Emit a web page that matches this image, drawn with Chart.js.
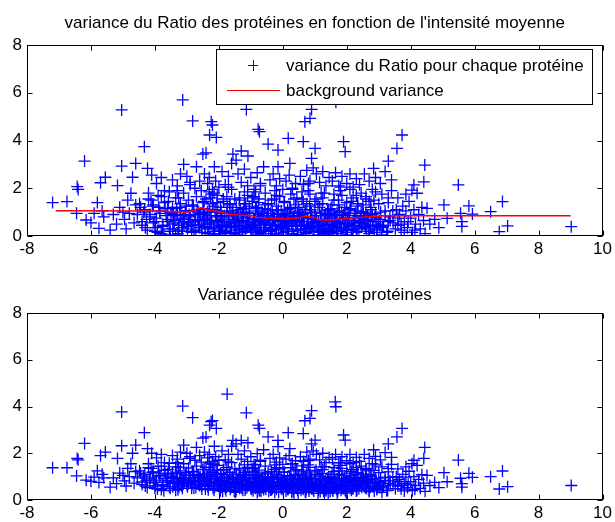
<!DOCTYPE html>
<html>
<head>
<meta charset="utf-8">
<script src="https://cdn.jsdelivr.net/npm/chart.js@4.4.1/dist/chart.umd.min.js"></script>
<style>
  html, body { margin: 0; padding: 0; background: #fff; }
  #wrap { position: relative; width: 615px; height: 522px; }
  canvas { position: absolute; left: 0; }
  #topChart { top: 0; }
  #bottomChart { top: 261px; }
</style>
</head>
<body>
<div id="wrap">
  <canvas id="topChart" width="615" height="261"></canvas>
  <canvas id="bottomChart" width="615" height="261"></canvas>
</div>
<script>
// mean intensity of each protein (x)
var protX = [
  -7.2, -6.75, -6.45, -6.43, -6.4, -6.2, -6.15, -5.9, -5.8, -5.7, -5.55, -5.75, -5.65, -6.0, -5.6,
  -5.17, -5.04, -5.04, -4.70, -4.75, -5.3, -5.2, -5.1, -4.95, -4.9, -4.85, -4.8, -4.65, -4.6, -5.4, -4.55, -5.0,
  -4.6, -4.33, -4.23, -4.1, -3.95, -3.8, -3.7, -4.45, -4.4, -4.3, -4.2, -4.15, -4.05, -4.0, -3.95, -3.9, -3.85, -3.75, -3.7, -3.65, -3.6, -3.55, -3.55, -4.35, -4.05, -3.8, -3.62,
  -3.13, -3.1, -2.82, -2.5, -2.4, -3.45, -3.3, -3.2, -3.0, -2.9, -2.7, -2.6, -3.45, -3.4, -3.35, -3.3, -3.25, -3.2, -3.15, -3.1, -3.05, -3.0, -2.95, -2.9, -2.85, -2.8, -2.75, -2.7, -2.65, -2.6, -2.55, -2.5, -2.5, -3.35, -2.95, -2.75,
  -2.24, -2.2, -2.29, -2.08, -2.14, -1.74, -1.56, -1.46, -1.6, -2.45, -2.35, -2.3, -2.2, -2.1, -2.0, -1.9, -1.8, -1.7, -1.6, -2.45, -2.4, -2.35, -2.3, -2.25, -2.2, -2.15, -2.1, -2.05, -2.0, -1.95, -1.9, -1.85, -1.8, -1.75, -1.7, -1.65, -1.6, -1.55, -2.45, -2.15, -1.95, -1.75, -1.5, -1.5, -2.05, -2.3,
  -1.14, -0.77, -0.73, -0.46, -1.3, -1.09, -1.4, -1.3, -1.2, -1.1, -1.0, -0.9, -0.8, -0.7, -0.6, -0.55, -1.45, -1.4, -1.35, -1.3, -1.25, -1.2, -1.15, -1.1, -1.05, -1.0, -0.95, -0.9, -0.85, -0.8, -0.75, -0.7, -0.65, -0.6, -0.55, -0.5, -1.45, -1.25, -0.95, -0.85, -0.65, -1.35, -1.05, -0.75,
  -0.15, 0.17, 0.22, -0.15, -0.4, -0.3, -0.2, -0.1, 0.0, 0.1, 0.2, 0.3, 0.4, -0.45, -0.4, -0.35, -0.3, -0.25, -0.2, -0.15, -0.1, -0.05, 0.0, 0.05, 0.1, 0.15, 0.2, 0.25, 0.3, 0.35, 0.4, 0.45, -0.45, -0.25, 0.05, 0.25, 0.45, -0.05, 0.35, -0.35, 0.15,
  0.64, 0.69, 0.85, 0.9, 1.01, 0.9, 0.55, 0.65, 0.75, 0.85, 0.95, 1.05, 1.15, 1.25, 1.35, 1.45, 0.5, 0.55, 0.6, 0.65, 0.7, 0.75, 0.8, 0.85, 0.9, 0.95, 1.0, 1.05, 1.1, 1.15, 1.2, 1.25, 1.3, 1.35, 1.4, 1.45, 0.6, 0.8, 1.0, 1.2, 1.4, 0.7, 1.1, 1.3, 0.9,
  1.64, 1.66, 1.9, 1.95, 1.55, 1.65, 1.75, 1.85, 2.0, 2.1, 2.2, 2.3, 2.4, 1.5, 1.55, 1.6, 1.65, 1.7, 1.75, 1.8, 1.85, 1.9, 1.95, 2.0, 2.05, 2.1, 2.15, 2.2, 2.25, 2.3, 2.35, 2.4, 2.45, 1.6, 1.8, 2.0, 2.2, 2.45, 1.7, 2.1,
  3.3, 2.84, 2.55, 2.7, 2.9, 3.05, 3.2, 3.4, 2.5, 2.55, 2.6, 2.65, 2.7, 2.75, 2.8, 2.85, 2.9, 2.95, 3.0, 3.05, 3.1, 3.15, 3.2, 3.25, 3.3, 3.35, 3.4, 3.45, 2.6, 2.9, 3.1, 3.3, 2.7,
  3.73, 3.57, 4.44, 4.41, 4.1, 4.04, 4.2, 3.6, 3.65, 3.7, 3.75, 3.8, 3.85, 3.9, 3.95, 4.0, 4.05, 4.1, 4.15, 4.25, 4.3, 4.35, 4.4, 4.45, 4.13, 3.55, 3.85, 3.6,
  4.51, 4.6, 4.75, 4.88, 5.04, 5.14, 5.49, 5.56, 5.6, 5.6, 5.82, 5.93, 6.5, 6.87, 6.77, 7.03, 9.02
];

// variance of the ratio for each protein (top panel)
var varRatio = [
  1.40, 1.44, 0.95, 2.07, 1.95, 3.14, 0.67, 0.95, 1.40, 2.23, 2.46, 0.32, 1.05, 0.55, 0.80,
  2.11, 5.28, 2.93, 2.46, 1.79, 0.90, 0.50, 1.20, 0.70, 0.30, 1.50, 0.95, 0.55, 1.30, 0.25, 0.90, 1.00,
  3.04, 3.74, 2.83, 2.55, 2.20, 2.45, 1.90, 1.20, 0.60, 0.35, 1.55, 0.90, 1.30, 0.20, 0.75, 1.70, 1.05, 0.45, 1.40, 0.85, 1.15, 0.30, 1.85, 1.00, 0.55, 0.10, 0.60,
  5.70, 3.00, 4.82, 3.43, 3.48, 2.35, 2.10, 2.60, 2.50, 2.25, 2.90, 2.30, 1.20, 0.50, 1.60, 0.90, 0.25, 1.35, 0.70, 1.80, 1.05, 0.40, 1.50, 0.85, 0.15, 1.25, 0.60, 1.65, 1.00, 0.35, 1.90, 0.80, 1.40, 0.05, 0.55, 2.00,
  4.79, 4.65, 4.23, 4.13, 2.90, 7.00, 3.43, 3.18, 3.04, 2.60, 2.20, 2.45, 1.95, 2.30, 2.05, 2.70, 2.15, 2.50, 1.95, 0.90, 1.55, 0.30, 1.10, 0.65, 1.35, 0.05, 0.85, 1.70, 0.45, 1.20, 0.70, 1.45, 0.20, 1.00, 0.55, 1.30, 0.35, 0.85, 0.50, 1.80, 0.10, 1.65, 1.55, 0.60, 1.00, 1.85,
  5.30, 4.47, 4.37, 3.85, 3.56, 3.35, 2.60, 2.25, 2.80, 2.10, 2.45, 1.95, 2.65, 2.20, 2.90, 1.80, 1.20, 0.40, 1.60, 0.80, 0.15, 1.35, 0.60, 1.70, 0.95, 0.30, 1.45, 0.70, 1.15, 0.05, 1.55, 0.50, 1.00, 0.25, 1.30, 0.75, 0.55, 1.00, 0.45, 1.85, 0.65, 0.25, 1.25, 0.90,
  3.60, 4.09, 3.04, 2.90, 2.35, 2.60, 2.10, 2.40, 1.95, 2.30, 2.55, 2.00, 2.20, 1.10, 0.45, 1.50, 0.80, 0.10, 1.25, 0.60, 1.65, 0.35, 0.90, 1.40, 0.20, 1.10, 0.50, 1.75, 0.75, 0.05, 1.30, 0.55, 0.70, 1.90, 0.70, 1.00, 0.95, 1.05, 1.55, 0.30, 0.40,
  3.95, 4.79, 4.93, 5.30, 3.67, 3.25, 2.50, 2.15, 2.75, 2.30, 2.85, 2.60, 2.25, 2.70, 2.10, 2.45, 1.20, 0.40, 1.55, 0.80, 0.15, 1.35, 0.60, 1.75, 1.00, 0.30, 1.45, 0.70, 0.05, 1.20, 0.50, 1.60, 0.85, 0.25, 1.05, 0.45, 0.95, 1.90, 0.55, 1.80, 0.65, 1.10, 1.30, 0.10, 0.35,
  5.90, 5.60, 3.95, 3.53, 2.30, 2.65, 2.10, 2.50, 2.20, 2.60, 2.05, 2.40, 2.15, 1.15, 0.35, 1.50, 0.75, 0.10, 1.30, 0.55, 1.70, 0.90, 0.25, 1.40, 0.65, 1.10, 0.40, 1.60, 0.85, 0.15, 1.25, 0.60, 1.00, 0.50, 1.90, 0.05, 0.30, 1.80, 1.00, 1.95,
  3.14, 2.83, 2.60, 2.30, 2.45, 2.20, 2.70, 2.35, 1.30, 0.50, 1.65, 0.85, 0.20, 1.20, 0.60, 1.50, 0.95, 0.30, 1.35, 0.70, 1.75, 0.45, 1.05, 0.15, 1.40, 0.80, 1.90, 0.55, 1.00, 1.85, 0.05, 0.60, 1.45,
  4.23, 3.67, 2.97, 2.27, 2.14, 1.92, 1.79, 1.60, 0.90, 0.25, 1.25, 0.60, 1.05, 0.35, 1.45, 0.75, 0.15, 1.10, 0.50, 0.90, 0.30, 1.20, 0.65, 0.10, 0.25, 1.10, 1.75, 0.45,
  1.16, 0.50, 0.70, 0.35, 1.30, 0.74, 2.14, 0.95, 0.40, 0.60, 1.26, 0.92, 1.02, 1.44, 0.18, 0.42, 0.39
];

// regulated variance of the same proteins (bottom panel)
var varRegul = [
  1.38, 1.38, 1.03, 1.78, 1.72, 2.42, 0.85, 0.98, 1.25, 1.90, 2.05, 0.75, 1.10, 0.80, 0.95,
  1.78, 3.77, 2.32, 2.00, 1.55, 0.95, 0.70, 1.15, 0.82, 0.60, 1.35, 1.00, 0.72, 1.22, 0.55, 0.95, 1.05,
  2.35, 2.88, 2.20, 2.00, 1.80, 1.95, 1.60, 1.15, 0.77, 0.60, 1.38, 0.95, 1.20, 0.50, 0.85, 1.45, 1.05, 0.65, 1.27, 0.92, 1.12, 0.57, 1.57, 1.02, 0.73, 0.45, 0.76,
  4.02, 2.35, 3.52, 2.65, 2.70, 1.90, 1.75, 2.05, 2.00, 1.85, 2.25, 1.90, 1.15, 0.70, 1.42, 0.97, 0.55, 1.25, 0.85, 1.55, 1.07, 0.65, 1.37, 0.95, 0.50, 1.20, 0.78, 1.45, 1.05, 0.62, 1.62, 0.90, 1.30, 0.42, 0.75, 1.70,
  3.35, 3.40, 3.20, 3.06, 2.30, 4.53, 2.55, 2.40, 2.30, 2.05, 1.80, 1.95, 1.65, 1.85, 1.70, 2.10, 1.72, 1.95, 1.60, 0.95, 1.40, 0.58, 1.10, 0.80, 1.25, 0.42, 0.92, 1.48, 0.68, 1.13, 0.82, 1.28, 0.50, 0.98, 0.70, 1.18, 0.56, 0.88, 0.70, 1.53, 0.40, 1.40, 1.33, 0.72, 1.00, 1.58,
  3.73, 3.20, 3.06, 2.70, 2.55, 2.45, 1.95, 1.75, 2.10, 1.65, 1.85, 1.52, 1.98, 1.70, 2.15, 1.45, 1.10, 0.60, 1.35, 0.85, 0.42, 1.18, 0.70, 1.40, 0.90, 0.50, 1.22, 0.75, 1.03, 0.32, 1.28, 0.60, 0.92, 0.45, 1.12, 0.75, 0.70, 0.97, 0.58, 1.50, 0.70, 0.50, 1.10, 0.85,
  2.55, 2.88, 2.20, 2.28, 1.78, 1.95, 1.62, 1.80, 1.52, 1.75, 1.90, 1.55, 1.68, 1.00, 0.55, 1.22, 0.78, 0.33, 1.08, 0.65, 1.33, 0.48, 0.85, 1.18, 0.38, 1.00, 0.58, 1.38, 0.75, 0.30, 1.10, 0.60, 0.72, 1.50, 0.70, 0.92, 0.90, 0.95, 1.25, 0.45, 0.52,
  2.84, 3.39, 3.49, 3.82, 2.56, 2.40, 1.85, 1.65, 2.05, 1.75, 2.10, 1.95, 1.72, 2.00, 1.60, 1.82, 1.05, 0.52, 1.28, 0.78, 0.35, 1.15, 0.65, 1.40, 0.92, 0.45, 1.20, 0.70, 0.28, 1.02, 0.58, 1.30, 0.80, 0.40, 0.93, 0.55, 0.88, 1.50, 0.60, 1.42, 0.68, 0.98, 1.10, 0.30, 0.48,
  4.20, 3.99, 2.78, 2.56, 1.75, 1.95, 1.60, 1.85, 1.68, 1.95, 1.60, 1.82, 1.65, 0.98, 0.45, 1.22, 0.72, 0.30, 1.10, 0.60, 1.35, 0.82, 0.42, 1.15, 0.68, 0.98, 0.55, 1.30, 0.83, 0.38, 1.10, 0.68, 0.93, 0.57, 1.48, 0.30, 0.48, 1.45, 0.90, 1.55,
  2.40, 2.15, 1.95, 1.78, 1.87, 1.72, 2.03, 1.82, 1.12, 0.62, 1.35, 0.85, 0.42, 1.07, 0.70, 1.27, 0.92, 0.50, 1.17, 0.75, 1.42, 0.60, 0.98, 0.40, 1.20, 0.82, 1.52, 0.65, 0.95, 1.50, 0.33, 0.70, 1.25,
  3.06, 2.70, 2.25, 1.78, 1.70, 1.55, 1.48, 1.33, 0.88, 0.47, 1.10, 0.70, 0.98, 0.53, 1.23, 0.78, 0.40, 1.00, 0.62, 0.88, 0.50, 1.08, 0.72, 0.37, 0.46, 1.00, 1.42, 0.60,
  1.05, 0.62, 0.75, 0.53, 1.17, 0.78, 1.71, 0.93, 0.55, 0.70, 1.14, 0.97, 1.00, 1.24, 0.47, 0.57, 0.62
];

// the dense core of the cloud (same three columns, kept apart for readability)
var coreX = [
  -4.40, -4.32, -4.24, -4.16, -4.08, -4.00, -3.92, -3.84, -3.76, -3.68,
  -3.60, -3.52, -3.46, -3.40, -3.34, -3.28, -3.22, -3.16, -3.10, -3.04,
  -2.98, -2.93, -2.88, -2.83, -2.78, -2.73, -2.68, -2.63, -2.58, -2.53,
  -2.48, -2.43, -2.38, -2.33, -2.28, -2.23, -2.18, -2.13, -2.08, -2.03,
  -1.98, -1.93, -1.88, -1.83, -1.78, -1.73, -1.68, -1.63, -1.58, -1.53,
  -1.48, -1.43, -1.38, -1.33, -1.28, -1.23, -1.18, -1.13, -1.08, -1.03,
  -0.98, -0.93, -0.88, -0.83, -0.78, -0.73, -0.68, -0.63, -0.58, -0.53,
  -0.48, -0.43, -0.38, -0.33, -0.28, -0.23, -0.18, -0.13, -0.08, -0.03,
  0.02, 0.07, 0.12, 0.17, 0.22, 0.27, 0.32, 0.37, 0.42, 0.47,
  0.52, 0.57, 0.62, 0.67, 0.72, 0.77, 0.82, 0.87, 0.92, 0.97,
  1.02, 1.07, 1.12, 1.17, 1.22, 1.27, 1.32, 1.37, 1.42, 1.47,
  1.52, 1.57, 1.62, 1.67, 1.72, 1.77, 1.82, 1.87, 1.92, 1.97,
  2.02, 2.07, 2.12, 2.17, 2.22, 2.27, 2.32, 2.37, 2.42, 2.47,
  2.52, 2.58, 2.64, 2.70, 2.76, 2.82, 2.88, 2.94, 3.00, 3.06,
  3.12, 3.20, 3.28, 3.36, 3.44, 3.52, 3.60, 3.70, 3.80, 3.92,
  -2.46, -2.36, -2.26, -2.16, -2.06, -1.96, -1.86, -1.76, -1.66, -1.56,
  -1.46, -1.36, -1.26, -1.16, -1.06, -0.96, -0.86, -0.76, -0.66, -0.56,
  -0.46, -0.36, -0.26, -0.16, -0.06, 0.04, 0.14, 0.24, 0.34, 0.44,
  0.54, 0.64, 0.74, 0.84, 0.94, 1.04, 1.14, 1.24, 1.34, 1.44,
  1.54, 1.64, 1.74, 1.84, 1.94, 2.04, 2.14, 2.24, 2.34, 2.44,
  -4.48, -4.26, -4.12, -3.98, -3.88, -3.72, -3.58, -3.42, -3.26, -3.12,
  -1.92, -1.52, -1.12, -0.72, -0.32, 0.08, 0.48, 0.88, 1.28, 1.68,
  -3.50, -3.44, -3.38, -3.32, -3.26, -3.20, -3.14, -3.08, -3.02, -2.96,
  -2.90, -2.84, -2.78, -2.72, -2.66, -2.60, -2.54, -2.48, -2.42, -2.36,
  -2.30, -2.24, -2.18, -2.12, -2.06, -2.00, -1.94, -1.88, -1.82, -1.76,
  -1.70, -1.64, -1.58, -1.52, -1.46, -1.40, -1.34, -1.28, -1.22, -1.16,
  -1.10, -1.04, -0.98, -0.92, -0.86, -0.80, -0.74, -0.68, -0.62, -0.56,
  -0.50, -0.44, -0.38, -0.32, -0.26, -0.20, -0.14, -0.08, -0.02, 0.04,
  0.10, 0.16, 0.22, 0.28, 0.34, 0.40, 0.46, 0.52, 0.58, 0.64,
  0.70, 0.76, 0.82, 0.88, 0.94, 1.00, 1.06, 1.12, 1.18, 1.24,
  1.30, 1.36, 1.42, 1.48, 1.54, 1.60, 1.66, 1.72, 1.78, 1.84,
  1.90, 1.96, 2.02, 2.08, 2.14, 2.20, 2.26, 2.32, 2.38, 2.44,
  2.50, 2.56, 2.62, 2.68, 2.74, 2.80, 2.86, 2.92, 2.98, 3.04,
  -3.8, -3.3, -2.9, -2.2, -1.7, -1.2, -0.7, -0.2, 0.3, 0.8,
  1.3, 1.8, 2.3, 2.8, 3.3, -4.2, -0.9, 0.6, 1.6, 2.6
];

var coreRatio = [
  0.45, 1.10, 0.25, 0.80, 1.25, 0.60, 0.15, 0.95, 0.40, 1.15,
  0.70, 0.20, 1.00, 0.55, 0.85, 0.10, 1.20, 0.35, 0.75, 1.05,
  0.30, 0.90, 0.60, 1.30, 0.20, 0.70, 1.10, 0.45, 0.95, 0.15,
  1.15, 0.40, 0.75, 0.10, 1.00, 0.55, 1.25, 0.30, 0.80, 0.65,
  0.25, 1.05, 0.50, 0.85, 0.15, 1.20, 0.60, 0.35, 0.95, 0.70,
  0.05, 0.90, 0.45, 1.10, 0.30, 0.75, 0.20, 1.00, 0.55, 0.85,
  0.40, 0.15, 0.70, 1.20, 0.35, 0.60, 0.10, 0.95, 0.50, 0.25,
  0.85, 0.55, 0.20, 1.05, 0.65, 0.40, 0.90, 0.05, 0.70, 0.45,
  0.15, 0.80, 0.55, 0.30, 1.15, 0.60, 0.20, 0.85, 0.40, 1.00,
  0.65, 0.25, 0.90, 0.45, 0.10, 0.75, 0.35, 1.10, 0.55, 0.20,
  0.85, 0.40, 0.60, 0.15, 0.95, 0.30, 0.70, 0.50, 0.05, 0.80,
  0.45, 0.20, 0.90, 0.60, 0.35, 1.05, 0.25, 0.70, 0.50, 0.15,
  0.75, 0.45, 1.15, 0.30, 0.65, 0.95, 0.20, 0.55, 0.85, 0.40,
  0.95, 0.35, 0.70, 0.10, 1.10, 0.45, 0.80, 0.25, 0.60, 1.00,
  0.40, 0.85, 0.20, 0.65, 1.05, 0.30, 0.75, 0.50, 0.15, 0.60,
  1.45, 0.65, 1.60, 0.35, 1.40, 0.80, 1.55, 0.40, 1.35, 1.05,
  0.65, 1.50, 0.90, 1.35, 0.50, 1.60, 0.30, 1.40, 0.80, 1.15,
  1.35, 0.25, 1.55, 0.95, 0.60, 1.45, 0.30, 1.20, 0.80, 1.60,
  0.95, 1.45, 0.30, 1.25, 0.70, 1.55, 0.40, 1.35, 0.90, 1.10,
  1.30, 0.65, 1.50, 0.35, 1.20, 0.85, 1.45, 0.55, 1.35, 0.75,
  1.35, 0.70, 1.50, 0.35, 1.20, 0.05, 1.45, 0.90, 1.60, 0.55,
  0.40, 0.10, 0.35, 0.20, 0.30, 0.55, 0.05, 0.40, 0.20, 0.30,
  0.95, 0.30, 0.65, 1.15, 0.45, 0.85, 0.20, 0.60, 1.25, 0.50,
  0.80, 0.45, 1.05, 0.25, 0.65, 0.90, 0.35, 0.70, 0.15, 1.00,
  0.50, 0.85, 0.20, 1.10, 0.60, 0.35, 0.95, 0.10, 0.70, 0.45,
  0.80, 0.25, 1.00, 0.55, 0.15, 0.90, 0.40, 0.65, 1.15, 0.30,
  0.60, 0.95, 0.25, 0.75, 0.45, 1.05, 0.15, 0.55, 0.85, 0.35,
  0.65, 0.10, 0.95, 0.45, 0.75, 0.25, 1.10, 0.50, 0.30, 0.85,
  0.65, 0.40, 0.95, 0.10, 0.70, 0.45, 0.25, 0.85, 0.60, 0.30,
  0.95, 0.50, 0.20, 0.75, 0.40, 1.00, 0.65, 0.25, 0.85, 0.45,
  0.60, 0.30, 0.95, 0.15, 0.70, 0.40, 0.85, 0.20, 0.55, 1.00,
  0.35, 0.75, 0.55, 0.95, 0.25, 0.65, 0.45, 1.05, 0.30, 0.80,
  0.55, 0.80, 0.30, 0.65, 0.40, 0.90, 0.15, 0.75, 0.50, 0.35,
  1.65, 1.90, 2.15, 1.75, 2.05, 1.85, 2.10, 1.70, 1.95, 2.20,
  1.80, 2.05, 1.70, 1.95, 1.60, 1.80, 1.65, 1.85, 1.75, 1.55
];

var coreRegul = [
  0.66, 1.09, 0.53, 0.89, 1.18, 0.76, 0.47, 0.99, 0.63, 1.12,
  0.83, 0.50, 1.02, 0.73, 0.92, 0.44, 1.15, 0.60, 0.86, 1.05,
  0.57, 0.96, 0.76, 1.22, 0.50, 0.83, 1.09, 0.66, 0.99, 0.47,
  1.12, 0.63, 0.86, 0.44, 1.02, 0.73, 1.18, 0.57, 0.89, 0.79,
  0.46, 0.98, 0.63, 0.85, 0.40, 1.08, 0.69, 0.53, 0.92, 0.76,
  0.33, 0.89, 0.59, 1.02, 0.50, 0.79, 0.43, 0.95, 0.66, 0.85,
  0.56, 0.40, 0.76, 1.08, 0.53, 0.69, 0.37, 0.92, 0.63, 0.46,
  0.85, 0.66, 0.43, 0.98, 0.72, 0.56, 0.89, 0.33, 0.76, 0.59,
  0.36, 0.78, 0.62, 0.46, 1.01, 0.65, 0.39, 0.81, 0.52, 0.91,
  0.68, 0.42, 0.85, 0.55, 0.33, 0.75, 0.49, 0.98, 0.62, 0.39,
  0.81, 0.52, 0.65, 0.36, 0.88, 0.45, 0.71, 0.58, 0.29, 0.78,
  0.55, 0.39, 0.85, 0.65, 0.49, 0.94, 0.42, 0.71, 0.59, 0.36,
  0.78, 0.58, 1.04, 0.49, 0.71, 0.91, 0.42, 0.65, 0.84, 0.55,
  0.91, 0.52, 0.75, 0.36, 1.01, 0.58, 0.81, 0.45, 0.68, 0.94,
  0.55, 0.84, 0.42, 0.71, 0.97, 0.49, 0.78, 0.62, 0.39, 0.68,
  1.31, 0.79, 1.41, 0.60, 1.28, 0.82, 1.31, 0.56, 1.18, 0.98,
  0.72, 1.28, 0.89, 1.18, 0.63, 1.34, 0.50, 1.19, 0.80, 1.00,
  1.16, 0.46, 1.31, 0.92, 0.69, 1.20, 0.46, 1.04, 0.78, 1.30,
  0.88, 1.20, 0.46, 1.07, 0.72, 1.27, 0.52, 1.14, 0.85, 0.97,
  1.11, 0.68, 1.24, 0.49, 1.04, 0.81, 1.23, 0.65, 1.17, 0.78,
  1.25, 0.83, 1.35, 0.60, 1.15, 0.40, 1.31, 0.96, 1.41, 0.73,
  0.56, 0.37, 0.53, 0.43, 0.50, 0.62, 0.29, 0.52, 0.39, 0.46,
  0.99, 0.57, 0.79, 1.12, 0.66, 0.92, 0.50, 0.76, 1.18, 0.70,
  0.89, 0.66, 1.05, 0.53, 0.79, 0.96, 0.60, 0.83, 0.47, 1.02,
  0.70, 0.92, 0.50, 1.09, 0.76, 0.60, 0.92, 0.37, 0.76, 0.59,
  0.82, 0.46, 0.95, 0.66, 0.40, 0.89, 0.56, 0.72, 1.05, 0.50,
  0.69, 0.92, 0.46, 0.79, 0.59, 0.98, 0.40, 0.66, 0.85, 0.53,
  0.72, 0.37, 0.92, 0.59, 0.79, 0.46, 1.02, 0.63, 0.48, 0.81,
  0.68, 0.52, 0.88, 0.33, 0.71, 0.55, 0.42, 0.81, 0.65, 0.46,
  0.88, 0.58, 0.39, 0.75, 0.52, 0.91, 0.68, 0.42, 0.81, 0.55,
  0.65, 0.45, 0.88, 0.36, 0.71, 0.52, 0.81, 0.39, 0.62, 0.91,
  0.49, 0.75, 0.62, 0.88, 0.42, 0.71, 0.58, 0.97, 0.48, 0.79,
  0.65, 0.81, 0.49, 0.71, 0.55, 0.88, 0.39, 0.78, 0.62, 0.52,
  1.44, 1.60, 1.78, 1.53, 1.63, 1.50, 1.65, 1.38, 1.55, 1.69,
  1.43, 1.59, 1.39, 1.56, 1.34, 1.55, 1.37, 1.46, 1.39, 1.30
];

// background variance curve (red line)
var bgX = [-7.1, -4.0, -3.3, -3.0, -2.8, -2.55, -2.3, -2.0, -1.7, -1.4, -1.0, -0.8, -0.5, -0.2, 0.1, 0.3, 0.5, 0.7, 0.9, 1.1, 1.4, 1.7, 2.0, 2.4, 2.8, 3.2, 9.0];
var bgVar = [1.06, 1.05, 1.02, 1.0, 1.08, 1.18, 1.08, 1.02, 0.92, 0.88, 0.86, 0.78, 0.75, 0.73, 0.71, 0.74, 0.76, 0.84, 0.80, 0.69, 0.66, 0.70, 0.73, 0.78, 0.82, 0.85, 0.85];

var xRange = [-8, 10];
var yRange = [0, 8];

var topTitle = "variance du Ratio des protéines en fonction de l'intensité moyenne";
var bottomTitle = 'Variance régulée des protéines';
var ratioLabel = 'variance du Ratio pour chaque protéine';
var bgLabel = 'background variance';

var FONT = "'Liberation Sans', Arial, Helvetica, sans-serif";
var FONT_SIZE = 17;

function toPoints(xs, ys) {
  var pts = [];
  for (var i = 0; i < xs.length; i++) {
    pts.push({ x: xs[i], y: ys[i] });
  }
  return pts;
}

// box, inward ticks on all four sides, title and boxed legend, like a matlab axes
var matlabFrame = {
  id: 'matlabFrame',
  afterDraw: function (chart, args, opts) {
    var ctx = chart.ctx;
    var a = chart.chartArea;
    var l = Math.round(a.left) + 0.5, r = Math.round(a.right) - 0.5;
    var t = Math.round(a.top) + 0.5, b = Math.round(a.bottom) - 0.5;
    ctx.save();
    ctx.strokeStyle = '#000';
    ctx.lineWidth = 1;
    ctx.strokeRect(l, t, r - l, b - t);
    ctx.beginPath();
    chart.scales.x.ticks.forEach(function (tk) {
      var px = Math.round(chart.scales.x.getPixelForValue(tk.value)) + 0.5;
      ctx.moveTo(px, b); ctx.lineTo(px, b - 5);
      ctx.moveTo(px, t); ctx.lineTo(px, t + 5);
    });
    chart.scales.y.ticks.forEach(function (tk) {
      var py = Math.round(chart.scales.y.getPixelForValue(tk.value)) + 0.5;
      ctx.moveTo(l, py); ctx.lineTo(l + 5, py);
      ctx.moveTo(r, py); ctx.lineTo(r - 5, py);
    });
    ctx.stroke();

    ctx.fillStyle = '#000';
    ctx.font = FONT_SIZE + 'px ' + FONT;
    ctx.textAlign = 'center';
    ctx.textBaseline = 'middle';
    ctx.fillText(opts.title, (a.left + a.right) / 2, opts.titleY);

    if (opts.legend) {
      var lg = opts.legend;
      ctx.fillStyle = '#fff';
      ctx.fillRect(lg.x, lg.y, lg.w, lg.h);
      ctx.strokeStyle = '#000';
      ctx.strokeRect(lg.x + 0.5, lg.y + 0.5, lg.w, lg.h);
      var sets = chart.data.datasets;
      var scatter = sets[1], line = sets[0];
      // marker entry
      ctx.strokeStyle = scatter.borderColor;
      ctx.beginPath();
      ctx.moveTo(lg.x + 37 - 5, lg.y + 16.5); ctx.lineTo(lg.x + 37 + 5, lg.y + 16.5);
      ctx.moveTo(lg.x + 37.5, lg.y + 11); ctx.lineTo(lg.x + 37.5, lg.y + 22);
      ctx.stroke();
      // line entry
      ctx.strokeStyle = line.borderColor;
      ctx.beginPath();
      ctx.moveTo(lg.x + 11, lg.y + 41.5); ctx.lineTo(lg.x + 64, lg.y + 41.5);
      ctx.stroke();
      ctx.fillStyle = '#000';
      ctx.textAlign = 'left';
      ctx.fillText(scatter.label, lg.x + 70, lg.y + 17);
      ctx.fillText(line.label, lg.x + 70, lg.y + 42);
    }
    ctx.restore();
  }
};

function axisOptions(axisHeight, labelPad) {
  return {
    x: {
      type: 'linear',
      min: xRange[0],
      max: xRange[1],
      ticks: { stepSize: 2, color: '#000', font: { family: FONT, size: FONT_SIZE }, padding: labelPad, maxRotation: 0, autoSkip: false },
      grid: { display: false, drawTicks: false },
      border: { display: false },
      afterFit: function (s) { s.height = axisHeight; }
    },
    y: {
      type: 'linear',
      min: yRange[0],
      max: yRange[1],
      ticks: { stepSize: 2, color: '#000', font: { family: FONT, size: FONT_SIZE }, padding: 5 },
      grid: { display: false, drawTicks: false },
      border: { display: false },
      afterFit: function (s) { s.width = 27; }
    }
  };
}

function drawPanel(canvasId, values, coreValues, withBg, frameOpts, padTop, axisHeight, labelPad) {
  var datasets = [];
  datasets.push({
    type: 'line',
    label: bgLabel,
    data: withBg ? toPoints(bgX, bgVar) : [],
    borderColor: '#ff0000',
    borderWidth: 1.5,
    pointRadius: 0,
    fill: false,
    tension: 0,
    order: 0
  });
  datasets.push({
    type: 'scatter',
    label: ratioLabel,
    data: toPoints(protX, values).concat(toPoints(coreX, coreValues)),
    pointStyle: 'cross',
    pointRadius: 6,
    pointBorderWidth: 1.3,
    borderColor: '#0000ff',
    backgroundColor: '#0000ff',
    order: 1
  });
  return new Chart(document.getElementById(canvasId).getContext('2d'), {
    type: 'scatter',
    data: { datasets: datasets },
    options: {
      responsive: false,
      animation: false,
      events: [],
      layout: { padding: { left: 0, right: 12, top: padTop, bottom: 0 } },
      scales: axisOptions(axisHeight, labelPad),
      plugins: {
        legend: { display: false },
        tooltip: { enabled: false },
        title: { display: false },
        matlabFrame: frameOpts
      }
    },
    plugins: [matlabFrame]
  });
}

document.addEventListener('DOMContentLoaded', function () {
  Chart.defaults.font.family = FONT;
  drawPanel('topChart', varRatio, coreRatio, true, {
    title: topTitle,
    titleY: 23,
    legend: { x: 216, y: 49, w: 376, h: 55 }
  }, 45, 25, 3);
  drawPanel('bottomChart', varRegul, coreRegul, false, {
    title: bottomTitle,
    titleY: 34,
    legend: null
  }, 52, 22, 3);
});
</script>
</body>
</html>
